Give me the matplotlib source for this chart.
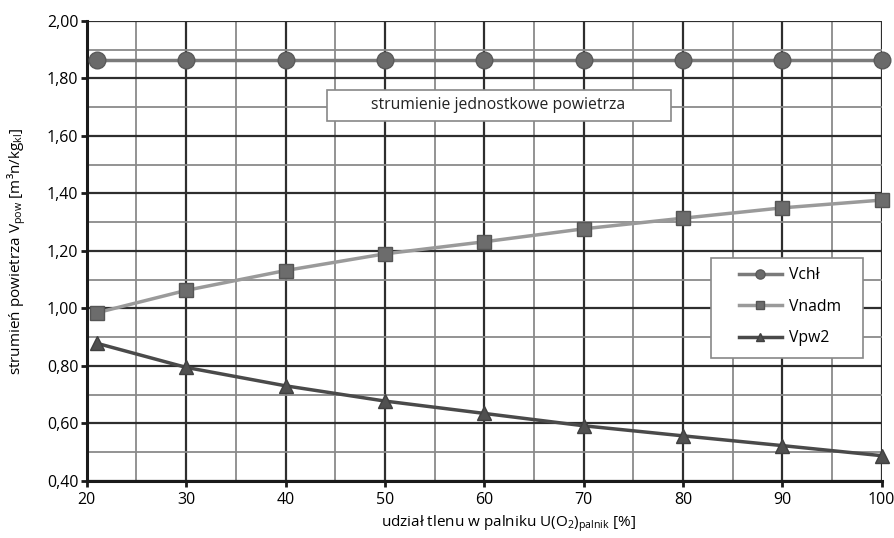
import matplotlib
matplotlib.use("Agg")
import matplotlib.pyplot as plt
from matplotlib.ticker import MultipleLocator, FuncFormatter
from matplotlib.patches import Rectangle

plt.rcParams["font.family"] = ["Open Sans", "DejaVu Sans"]
plt.rcParams["mathtext.fontset"] = "custom"
plt.rcParams["mathtext.rm"] = "Open Sans"
plt.rcParams["mathtext.it"] = "Open Sans"

# udział tlenu w palniku [%]
oxygen = [21, 30, 40, 50, 60, 70, 80, 90, 100]
v_chl = [1.865, 1.865, 1.865, 1.865, 1.865, 1.865, 1.865, 1.865, 1.865]
v_nadm = [0.985, 1.063, 1.132, 1.190, 1.232, 1.277, 1.314, 1.350, 1.377]
v_pw2 = [0.879, 0.795, 0.731, 0.678, 0.635, 0.592, 0.557, 0.523, 0.488]

fig = plt.figure(figsize=(8.95, 5.38), dpi=100)
ax = fig.add_axes([0.097, 0.106, 0.888, 0.855])

ax.set_xlim(20, 100)
ax.set_ylim(0.4, 2.0)
ax.xaxis.set_major_locator(MultipleLocator(10))
ax.xaxis.set_minor_locator(MultipleLocator(5))
ax.yaxis.set_major_locator(MultipleLocator(0.2))
ax.yaxis.set_minor_locator(MultipleLocator(0.1))
ax.yaxis.set_major_formatter(FuncFormatter(lambda v, p: f"{v:.2f}".replace(".", ",")))

ax.grid(which="major", color="#2e2e2e", linewidth=1.6)
ax.grid(which="minor", color="#8a8a8a", linewidth=1.3)
ax.set_axisbelow(True)

for side in ("top", "right"):
    ax.spines[side].set_visible(False)
for side in ("left", "bottom"):
    ax.spines[side].set_linewidth(2.2)
    ax.spines[side].set_color("#1a1a1a")

ax.tick_params(which="major", length=4, width=2, color="#1a1a1a", labelsize=11.5, pad=2)
ax.tick_params(which="minor", length=0)
ax.tick_params(axis="x", pad=4)

ax.plot(oxygen, v_chl, color="#7a7a7a", linewidth=2.5, marker="o", markersize=12,
        markerfacecolor="#6a6a6a", markeredgecolor="#5a5a5a", label="Vchł", clip_on=False, zorder=3)
ax.plot(oxygen, v_nadm, color="#9a9a9a", linewidth=2.5, marker="s", markersize=10,
        markerfacecolor="#6c6c6c", markeredgecolor="#555555", label="Vnadm", clip_on=False, zorder=3)
ax.plot(oxygen, v_pw2, color="#4a4a4a", linewidth=2.5, marker="^", markersize=10,
        markerfacecolor="#505050", markeredgecolor="#404040", label="Vpw2", clip_on=False, zorder=3)

ax.set_xlabel("udział tlenu w palniku U(O$_2$)$_{\\mathregular{palnik}}$ [%]", fontsize=11)
ax.xaxis.set_label_coords(0.53, -0.07)
ax.set_ylabel("strumień powietrza V$_{\\mathregular{pow}}$ [m³n/kg$_{\\mathregular{kl}}$]", fontsize=11, labelpad=14)

# opis w ramce
ax.add_patch(Rectangle((0.302, 0.783), 0.433, 0.066, transform=ax.transAxes,
                       facecolor="white", edgecolor="#888888", linewidth=1.2, zorder=4))
ax.text(0.517, 0.817, "strumienie jednostkowe powietrza", transform=ax.transAxes,
        ha="center", va="center", fontsize=11.3, color="#222222", zorder=5)

# ramka legendy
ax.add_patch(Rectangle((0.786, 0.267), 0.19, 0.218, transform=ax.transAxes,
                       facecolor="white", edgecolor="#888888", linewidth=1.2, zorder=5))
leg = ax.legend(loc="upper left", bbox_to_anchor=(0.82, 0.465), fontsize=11.3,
                frameon=False, handlelength=2.75, handletextpad=0.45,
                labelspacing=1.0, borderpad=0, markerscale=0.55, borderaxespad=0)
leg.set_zorder(6)

fig.savefig("out.png", dpi=100)
